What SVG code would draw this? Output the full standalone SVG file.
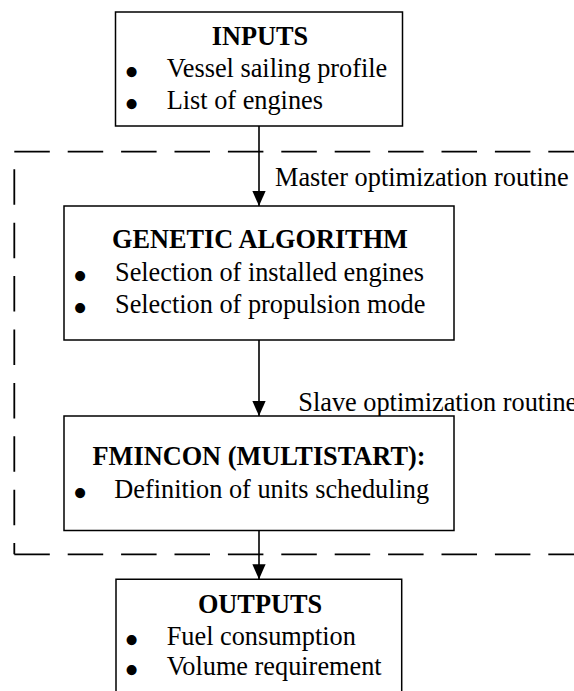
<svg xmlns="http://www.w3.org/2000/svg" width="574" height="691" viewBox="0 0 574 691">
<style>
.box{fill:#fff;stroke:#000;stroke-width:1.5}
.dash{fill:none;stroke:#000;stroke-width:1.8;stroke-dasharray:35.5 17.9}
.conn{stroke:#000;stroke-width:1.6;fill:none}
.title{font-family:"Liberation Serif","Times New Roman",serif;font-size:26.3px;font-weight:bold;text-anchor:middle;fill:#000}
.txt{font-family:"Liberation Serif","Times New Roman",serif;font-size:26.3px;fill:#000}
.bul{font-family:"Liberation Serif","Times New Roman",serif;font-size:42px;text-anchor:middle;fill:#000}
</style>
<defs>
<marker id="ah" markerWidth="15" markerHeight="17" refX="17" refY="7.5" orient="auto" markerUnits="userSpaceOnUse" viewBox="0 0 17 15">
<path d="M0,0 L17,7.5 L0,15 Z" fill="#000"/>
</marker>
</defs>
<rect width="574" height="691" fill="#fff"/>
<g id="boundary">
<line class="dash" x1="14.3" y1="151.7" x2="580" y2="151.7"/>
<line class="dash" x1="14.3" y1="151.7" x2="14.3" y2="554.3" style="stroke-dashoffset:35.8"/>
<line class="dash" x1="14.3" y1="554.3" x2="580" y2="554.3"/>
</g>
<g id="connectors">
<line class="conn" x1="259" y1="126" x2="259" y2="206" marker-end="url(#ah)"/>
<line class="conn" x1="259" y1="340" x2="259" y2="416" marker-end="url(#ah)"/>
<line class="conn" x1="259" y1="530.7" x2="259" y2="579.3" marker-end="url(#ah)"/>
<text class="txt" x="275" y="186">Master optimization routine</text>
<text class="txt" x="298.3" y="411">Slave optimization routine</text>
</g>
<g id="inputs">
<rect class="box" x="115.5" y="12" width="287" height="114"/>
<text class="title" x="260" y="45">INPUTS</text>
<text class="bul" x="131.7" y="85.6">•</text>
<text class="txt" x="166.7" y="77">Vessel sailing profile</text>
<text class="bul" x="131.7" y="117.6">•</text>
<text class="txt" x="166.7" y="109">List of engines</text>
</g>
<g id="genetic">
<rect class="box" x="64" y="206" width="390" height="134"/>
<text class="title" x="260" y="248">GENETIC ALGORITHM</text>
<text class="bul" x="80" y="289.6">•</text>
<text class="txt" x="115" y="281">Selection of installed engines</text>
<text class="bul" x="80" y="321.6">•</text>
<text class="txt" x="115" y="313">Selection of propulsion mode</text>
</g>
<g id="fmincon">
<rect class="box" x="64" y="416" width="390" height="114.5"/>
<text class="title" x="259" y="465">FMINCON (MULTISTART):</text>
<text class="bul" x="80" y="506.6">•</text>
<text class="txt" x="114.3" y="498">Definition of units scheduling</text>
</g>
<g id="outputs">
<path class="box" d="M116,700 V579.3 H401.7 V700"/>
<text class="title" x="260" y="612.7">OUTPUTS</text>
<text class="bul" x="131.7" y="653.6">•</text>
<text class="txt" x="166.7" y="645">Fuel consumption</text>
<text class="bul" x="131.7" y="683.6">•</text>
<text class="txt" x="166.7" y="675">Volume requirement</text>
</g>
</svg>
